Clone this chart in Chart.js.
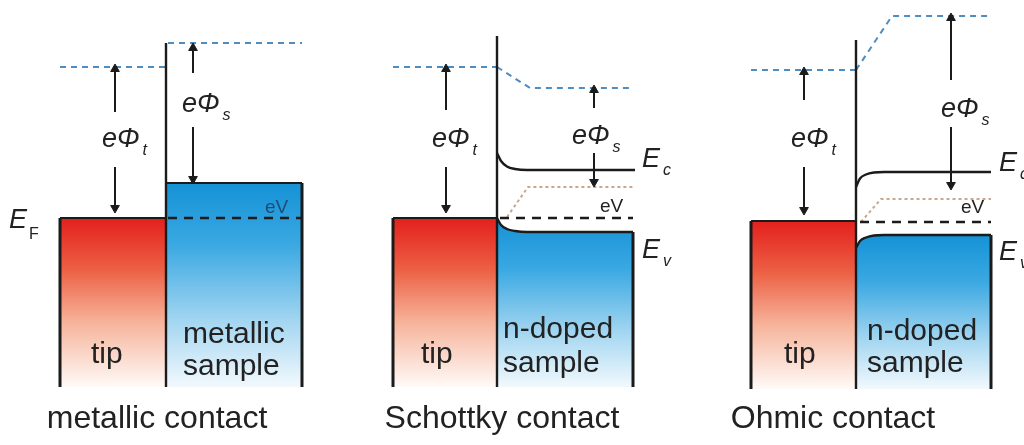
<!DOCTYPE html>
<html>
<head>
<meta charset="utf-8">
<style>
  html, body { margin: 0; padding: 0; background: #fff; }
  #wrap { width: 1024px; height: 445px; }
</style>
<script src="https://cdn.jsdelivr.net/npm/chart.js@4.4.3/dist/chart.umd.min.js"></script>
</head>
<body>
<div id="wrap"><canvas id="bands"></canvas></div>
<script>
// x = position across the figure, y = energy relative to E_F (arbitrary units)

// --- metallic contact ---
const metTipTop = [[60, 0], [166, 0]];
const metTipEdge = [[60, 0], [60, -16.9]];
const metSampleTop = [[166, 3.5], [302, 3.5]];
const metSampleEdge = [[302, 3.5], [302, -16.9]];
const metDivider = [[166, 17.5], [166, -16.9]];
const metVacTip = [[60, 15.1], [166, 15.1]];
const metVacSample = [[168, 17.5], [302, 17.5]];
const metFermi = [[168, 0], [302, 0]];
const metArrowTipUp = [[115, 10.6], [115, 14.9]];
const metArrowTipDown = [[115, 5.1], [115, 1.0]];
const metArrowSUp = [[193, 14.5], [193, 17.0]];
const metArrowSDown = [[193, 9.1], [193, 3.9]];

// --- Schottky contact ---
const schTipTop = [[393, 0], [497, 0]];
const schTipEdge = [[393, 0], [393, -16.9]];
const schDivider = [[497, 18.2], [497, -16.9]];
const schEv = [[497, 0], [501, -0.7], [507, -1.1], [515, -1.3], [527, -1.4], [633, -1.4]];
const schEvEdge = [[633, -1.4], [633, -16.9]];
const schEc = [[497, 6.5], [501, 5.7], [507, 5.15], [515, 4.9], [527, 4.8], [635, 4.8]];
const schVacTip = [[393, 15.1], [497, 15.1]];
const schVacSample = [[497, 15.1], [530, 13.0], [633, 13.0]];
const schDotted = [[507, 0.1], [528, 3.1], [633, 3.1]];
const schFermi = [[500, 0], [633, 0]];
const schArrowTipUp = [[446, 10.8], [446, 14.9]];
const schArrowTipDown = [[446, 5.1], [446, 1.0]];
const schArrowSUp = [[594, 11.0], [594, 12.8]];
const schArrowSDown = [[594, 6.5], [594, 3.6]];

// --- Ohmic contact ---
const ohmTipTop = [[751, -0.3], [856, -0.3]];
const ohmTipEdge = [[751, -0.3], [751, -17.1]];
const ohmDivider = [[856, 17.8], [856, -17.1]];
const ohmEv = [[856, -3.0], [860, -2.3], [866, -1.95], [874, -1.75], [884, -1.7], [991, -1.7]];
const ohmEvEdge = [[991, -1.7], [991, -17.1]];
const ohmEc = [[856, 3.1], [860, 3.95], [866, 4.35], [874, 4.55], [884, 4.6], [991, 4.6]];
const ohmVacTip = [[751, 14.8], [856, 14.8]];
const ohmVacSample = [[856, 14.8], [892, 20.2], [991, 20.2]];
const ohmDotted = [[861, -0.4], [881, 1.9], [991, 1.9]];
const ohmFermi = [[860, -0.4], [991, -0.4]];
const ohmArrowTipUp = [[804, 11.8], [804, 14.6]];
const ohmArrowTipDown = [[804, 5.1], [804, 0.8]];
const ohmArrowSUp = [[951, 13.8], [951, 20.0]];
const ohmArrowSDown = [[951, 9.1], [951, 3.3]];

// text annotations: [x, y, runs]; a run is [text, kind]
const panelTitles = [[157, -21.0, "metallic contact"], [502, -21.0, "Schottky contact"], [833, -21.0, "Ohmic contact"]];
const symbolLabels = [
  [9, -1.0, [["E", "big"], ["F", "subUp"]]],
  [102, 7.1, [["e", "big"], ["Φ", "big"], ["t", "sub"]]],
  [182, 10.6, [["e", "big"], ["Φ", "big"], ["s", "sub"]]],
  [432, 7.1, [["e", "big"], ["Φ", "big"], ["t", "sub"]]],
  [572, 7.4, [["e", "big"], ["Φ", "big"], ["s", "sub"]]],
  [642, 5.1, [["E", "big"], ["c", "sub"]]],
  [642, -4.0, [["E", "big"], ["v", "sub"]]],
  [791, 7.1, [["e", "big"], ["Φ", "big"], ["t", "sub"]]],
  [941, 10.1, [["e", "big"], ["Φ", "big"], ["s", "sub"]]],
  [999, 4.7, [["E", "big"], ["c", "sub"]]],
  [999, -4.2, [["E", "big"], ["v", "sub"]]],
];
const biasLabels = [[265, 0.5], [600, 0.6], [961, 0.5]];
const regionLabels = [
  [91, -14.5, "tip"], [183, -12.5, "metallic"], [183, -15.7, "sample"],
  [421, -14.5, "tip"], [503, -12.0, "n-doped"], [503, -15.4, "sample"],
  [784, -14.5, "tip"], [867, -12.2, "n-doped"], [867, -15.4, "sample"],
];

const INK = "#1b1b1b";
const VAC = "#4f8cc0";
const DOT = "#c9a68c";
const FAMILY = '"Liberation Sans", Arial, sans-serif';

const pts = (arr) => arr.map(([x, y]) => ({ x, y }));

function grad(stops, top, bottom) {
  return (c) => {
    const chart = c.chart;
    if (!chart.chartArea) return stops[0][1];
    const y0 = chart.scales.y.getPixelForValue(top);
    const y1 = chart.scales.y.getPixelForValue(bottom);
    const g = chart.ctx.createLinearGradient(0, y0, 0, y1);
    stops.forEach(([o, col]) => g.addColorStop(o, col));
    return g;
  };
}
const RED = [[0, "#e3201d"], [0.3, "#ec5f43"], [0.62, "#f6b49b"], [1, "#fffaf8"]];
const BLUE = [[0, "#1592d6"], [0.3, "#3aa8e2"], [0.68, "#a4d6f1"], [1, "#f2f9fd"]];

function solid(data, w) {
  return { data: pts(data), borderColor: INK, borderWidth: w || 2.6, fill: false, order: 1 };
}
function curve(data) {
  return { data: pts(data), borderColor: INK, borderWidth: 2.4, fill: false, cubicInterpolationMode: "monotone", order: 1 };
}
function dashed(data, color, dash, w) {
  return { data: pts(data), borderColor: color, borderWidth: w, borderDash: dash, fill: false, order: 2 };
}
function arrow(data, up) {
  return {
    data: pts(data), borderColor: INK, borderWidth: 2, fill: false, order: 1,
    pointRadius: [0, 5], pointStyle: "triangle", pointRotation: [0, up ? 0 : 180],
    pointBackgroundColor: INK, pointBorderColor: INK, pointBorderWidth: 1,
  };
}
function area(data, stops, top, bottom, smooth) {
  return {
    data: pts(data), borderWidth: 0, borderColor: "rgba(0,0,0,0)",
    backgroundColor: grad(stops, top, bottom), fill: { value: bottom }, order: 9,
    cubicInterpolationMode: smooth ? "monotone" : "default",
  };
}

const datasets = [
  // fills
  area(metTipTop, RED, 0, -16.9),
  area(metSampleTop, BLUE, 3.5, -16.9),
  area(schTipTop, RED, 0, -16.9),
  area(schEv, BLUE, 0, -16.9, true),
  area(ohmTipTop, RED, -0.3, -17.1),
  area(ohmEv, BLUE, -1.7, -17.1, true),
  // outlines
  solid(metTipTop, 2.2), solid(metTipEdge, 3), solid(metSampleTop, 2.2), solid(metSampleEdge, 3), solid(metDivider, 2.4),
  solid(schTipTop, 2.2), solid(schTipEdge, 3), solid(schEvEdge, 3), solid(schDivider, 2.4),
  curve(schEv), curve(schEc),
  solid(ohmTipTop, 2.2), solid(ohmTipEdge, 3), solid(ohmEvEdge, 3), solid(ohmDivider, 2.4),
  curve(ohmEv), curve(ohmEc),
  // levels
  dashed(metVacTip, VAC, [6, 5], 2), dashed(metVacSample, VAC, [6, 5], 2),
  dashed(schVacTip, VAC, [6, 5], 2), dashed(schVacSample, VAC, [6, 5], 2),
  dashed(ohmVacTip, VAC, [6, 5], 2), dashed(ohmVacSample, VAC, [6, 5], 2),
  dashed(metFermi, INK, [9, 7], 2.4), dashed(schFermi, INK, [9, 7], 2.4), dashed(ohmFermi, INK, [9, 7], 2.4),
  dashed(schDotted, DOT, [3, 3], 2), dashed(ohmDotted, DOT, [3, 3], 2),
  // work function arrows
  arrow(metArrowTipUp, true), arrow(metArrowTipDown, false), arrow(metArrowSUp, true), arrow(metArrowSDown, false),
  arrow(schArrowTipUp, true), arrow(schArrowTipDown, false), arrow(schArrowSUp, true), arrow(schArrowSDown, false),
  arrow(ohmArrowTipUp, true), arrow(ohmArrowTipDown, false), arrow(ohmArrowSUp, true), arrow(ohmArrowSDown, false),
];

// draws all the texts at data positions
const textPlugin = {
  id: "bandText",
  afterDatasetsDraw(chart) {
    const { ctx, scales } = chart;
    const px = (x) => scales.x.getPixelForValue(x);
    const py = (y) => scales.y.getPixelForValue(y);
    ctx.save();
    ctx.fillStyle = "#222";
    ctx.textBaseline = "alphabetic";

    ctx.textAlign = "center";
    ctx.font = "32px " + FAMILY;
    panelTitles.forEach(([x, y, t]) => ctx.fillText(t, px(x), py(y)));

    ctx.textAlign = "left";
    ctx.font = "30px " + FAMILY;
    regionLabels.forEach(([x, y, t]) => ctx.fillText(t, px(x), py(y)));

    ctx.font = "19px " + FAMILY;
    biasLabels.forEach(([x, y], i) => {
      ctx.fillStyle = i === 0 ? "#1c4d78" : "#222";
      ctx.fillText("eV", px(x), py(y));
    });
    ctx.fillStyle = "#222";

    symbolLabels.forEach(([x, y, runs]) => {
      let cx = px(x);
      const by = py(y);
      runs.forEach(([t, kind]) => {
        if (kind === "big") {
          ctx.font = "italic 27px " + FAMILY;
          ctx.fillText(t, cx, by);
        } else {
          ctx.font = (kind === "subUp" ? "" : "italic ") + "16px " + FAMILY;
          cx += kind === "subUp" ? 2 : 3;
          ctx.fillText(t, cx, by + (kind === "subUp" ? 11 : 8));
        }
        cx += ctx.measureText(t).width;
      });
    });
    ctx.restore();
  },
};

new Chart(document.getElementById("bands"), {
  type: "line",
  data: { datasets },
  options: {
    responsive: true,
    maintainAspectRatio: false,
    animation: false,
    events: [],
    layout: { padding: 0, autoPadding: false },
    elements: { point: { radius: 0, hoverRadius: 0 }, line: { tension: 0 } },
    scales: {
      x: { type: "linear", min: 0, max: 1024, display: false },
      y: { type: "linear", min: -22.7, max: 21.8, display: false },
    },
    plugins: { legend: { display: false }, tooltip: { enabled: false } },
  },
  plugins: [textPlugin],
});
</script>
</body>
</html>
